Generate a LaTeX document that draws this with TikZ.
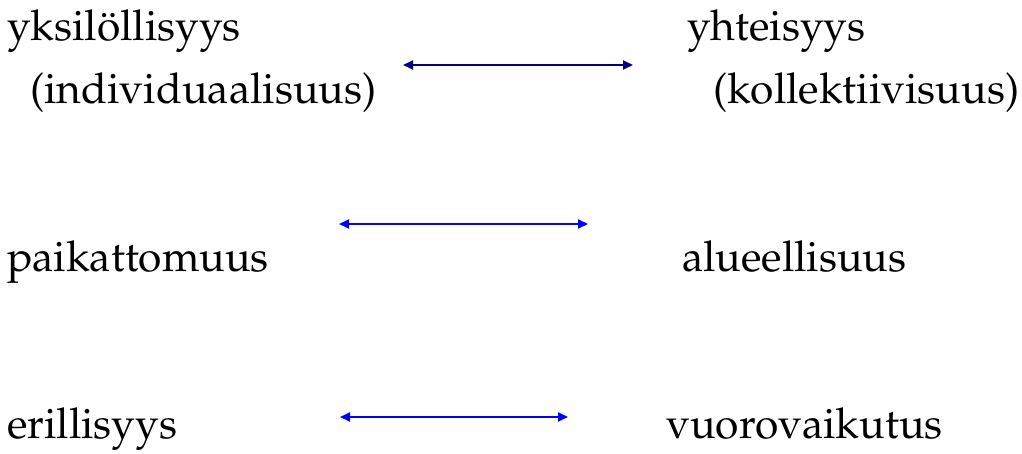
\documentclass[tikz,border=0pt]{standalone}
\usepackage[T1]{fontenc}
\usepackage{mathpazo}
\usetikzlibrary{arrows.meta}
\definecolor{navyarrow}{RGB}{0,0,128}
\definecolor{bluearrow}{RGB}{0,0,255}
\tikzset{
  lbl/.style={anchor=base west, inner sep=0pt, font=\fontsize{42.5}{50}\selectfont},
  dblarrow/.style={line width=2pt, {Triangle[length=10pt,width=9pt]}-{Triangle[length=10pt,width=9pt]}}
}
\begin{document}
\begin{tikzpicture}[x=1pt,y=-1pt]
\useasboundingbox (0,0) rectangle (1022,453);
\node[lbl] (ind1) at (7,40) {yksilöllisyys};
\node[lbl] (ind2) at (30,103) {(individuaalisuus)};
\node[lbl] (col1) at (687,40) {yhteisyys};
\node[lbl] (col2) at (713,103) {(kollektiivisuus)};
\node[lbl] (pai) at (7,271) {paikattomuus};
\node[lbl] (alu) at (682,271) {alueellisuus};
\node[lbl] (eri) at (7,438) {erillisyys};
\node[lbl] (vuo) at (666,438) {vuorovaikutus};
\coordinate (a1s) at (403,65);
\coordinate (a1e) at (633,65);
\coordinate (a2s) at (339,224);
\coordinate (a2e) at (588,224);
\coordinate (a3s) at (340,417);
\coordinate (a3e) at (568,417);
\draw[dblarrow, navyarrow] (a1s) -- (a1e);
\draw[dblarrow, bluearrow] (a2s) -- (a2e);
\draw[dblarrow, bluearrow] (a3s) -- (a3e);
\end{tikzpicture}
\end{document}
